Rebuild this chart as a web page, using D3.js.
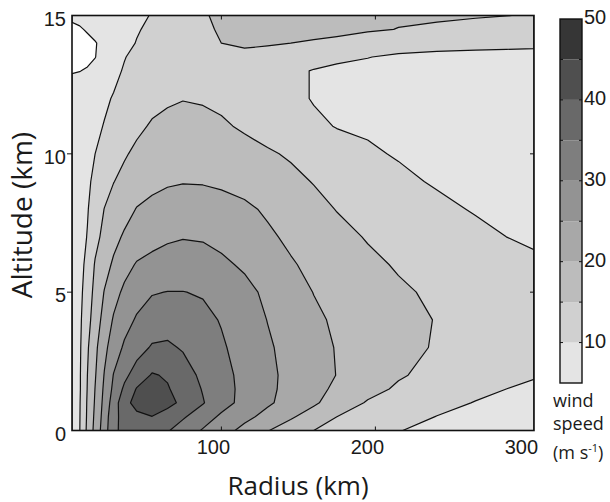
<!DOCTYPE html>
<html>
<head>
<meta charset="utf-8">
<script src="https://cdn.jsdelivr.net/npm/d3@7"></script>
<style>
  html, body { margin: 0; padding: 0; background: #fff; }
  svg { display: block; }
</style>
</head>
<body>
<svg id="chart" width="610" height="502"></svg>
<script>
// Grid coordinates (km)
const radius = [3, 8, 13, 18, 24, 30, 37, 45, 55, 65, 75, 88, 100, 115, 130, 145, 160, 175, 195, 215, 240, 265, 285, 303];
const altitude = [0, 0.5, 1, 1.5, 2, 3, 4, 5, 6, 7, 8, 9, 10, 11, 12, 13, 13.5, 14, 14.5, 15];

// Tangential wind speed (m/s); one row per altitude, one column per radius
const windSpeed = [
  [7.0, 9.9, 16.0, 21.5, 27.7, 34.0, 36.3, 38.2, 38.5, 35.4, 32.8, 29.6, 27.0, 23.6, 20.2, 17.6, 15.0, 13.7, 11.9, 10.1, 9.2, 8.3, 7.6, 7.0],
  [7.0, 9.8, 15.7, 21.0, 27.1, 33.8, 36.4, 38.8, 39.9, 37.8, 35.6, 32.2, 29.2, 26.3, 23.5, 20.6, 17.8, 15.0, 13.4, 11.9, 9.9, 9.0, 8.2, 7.5],
  [7.0, 9.7, 15.5, 20.5, 26.5, 32.5, 38.2, 41.8, 44.0, 41.5, 38.9, 35.3, 31.9, 28.5, 25.7, 23.2, 20.7, 17.8, 14.6, 13.2, 11.5, 9.8, 8.9, 8.0],
  [7.0, 9.5, 15.2, 20.1, 25.9, 31.1, 35.9, 40.3, 43.0, 40.4, 38.0, 34.7, 31.9, 28.7, 26.0, 23.6, 21.3, 19.2, 16.4, 14.4, 12.8, 11.25, 10.0, 9.3],
  [7.0, 9.5, 15.0, 19.6, 25.25, 30.2, 33.8, 37.2, 40.4, 39.5, 37.0, 34.0, 31.5, 28.7, 26.0, 23.8, 21.8, 19.9, 17.7, 15.4, 13.8, 12.4, 11.3, 10.3],
  [7.0, 9.3, 14.4, 18.8, 23.7, 27.5, 30.7, 33.0, 35.5, 35.7, 34.6, 32.5, 30.6, 28.1, 25.6, 23.5, 21.6, 19.75, 18.1, 16.4, 14.6, 13.4, 12.4, 11.5],
  [7.0, 9.1, 13.2, 17.5, 21.7, 25.5, 28.2, 30.5, 32.2, 33.0, 32.6, 31.2, 29.7, 27.3, 24.9, 22.8, 20.8, 19.35, 17.9, 16.5, 14.8, 13.8, 13.0, 12.3],
  [6.8, 8.8, 12.2, 16.5, 20.2, 23.2, 26.0, 28.1, 29.7, 30.1, 30.1, 29.6, 28.4, 26.4, 24.0, 21.9, 19.9, 18.7, 17.1, 15.6, 14.3, 13.4, 12.7, 12.0],
  [6.5, 8.5, 11.25, 15.4, 18.2, 20.7, 23.2, 25.4, 26.3, 26.8, 27.0, 26.7, 25.9, 24.3, 22.4, 20.4, 19.0, 17.7, 15.9, 14.6, 13.5, 12.4, 11.6, 10.8],
  [6.3, 8.2, 10.2, 13.5, 16.4, 18.6, 20.6, 22.0, 23.5, 24.4, 24.8, 24.6, 23.7, 22.2, 20.7, 19.2, 17.8, 16.3, 14.7, 13.6, 12.3, 11.0, 10.0, 9.3],
  [6.2, 7.95, 9.7, 12.2, 15.1, 16.6, 18.3, 20.2, 21.2, 21.9, 22.2, 22.1, 21.6, 20.8, 19.4, 17.8, 16.3, 14.85, 13.6, 12.4, 10.9, 9.7, 9.05, 8.5],
  [6.3, 7.7, 9.3, 10.9, 12.9, 14.9, 16.1, 17.6, 18.8, 19.5, 19.8, 19.7, 19.3, 18.5, 17.4, 16.1, 14.8, 13.7, 12.2, 10.8, 9.6, 9.0, 8.5, 8.0],
  [6.4, 7.5, 8.8, 10.0, 11.5, 12.9, 14.6, 15.8, 16.7, 17.3, 17.5, 17.4, 17.0, 16.3, 15.5, 14.5, 13.3, 12.1, 10.5, 9.7, 9.15, 8.6, 8.2, 7.8],
  [6.2, 7.2, 8.1, 9.1, 10.2, 11.3, 12.7, 14.2, 15.4, 15.8, 16.0, 15.9, 15.5, 14.5, 13.3, 12.1, 10.9, 9.8, 9.5, 9.2, 8.8, 8.4, 8.1, 7.8],
  [5.9, 6.6, 7.4, 8.2, 9.3, 10.3, 11.5, 12.7, 13.9, 14.6, 14.9, 14.7, 14.2, 13.4, 12.4, 11.2, 9.7, 9.1, 8.7, 8.4, 8.2, 8.0, 7.9, 7.8],
  [4.9, 4.95, 5.2, 6.2, 7.6, 8.9, 10.4, 11.4, 12.3, 12.9, 13.3, 13.5, 13.5, 13.0, 12.0, 10.8, 9.8, 9.6, 9.5, 9.4, 9.3, 9.2, 9.1, 9.0],
  [4.3, 4.3, 4.5, 4.9, 6.5, 8.0, 9.8, 11.2, 12.5, 13.4, 13.9, 14.3, 14.5, 14.3, 13.8, 12.8, 11.6, 10.4, 10.05, 9.7, 9.6, 9.5, 9.5, 9.4],
  [4.2, 4.2, 4.5, 4.85, 5.7, 7.0, 8.6, 10.2, 11.8, 13.0, 13.9, 14.5, 15.0, 15.4, 15.3, 15.0, 14.5, 14.0, 12.5, 10.95, 10.6, 10.5, 10.4, 10.4],
  [4.7, 4.8, 5.2, 5.8, 6.6, 7.5, 8.6, 9.6, 11.0, 12.5, 13.6, 14.5, 15.3, 16.0, 16.3, 16.5, 16.5, 16.1, 15.55, 14.9, 13.8, 12.8, 12.0, 11.6],
  [5.3, 5.6, 6.0, 6.8, 7.5, 8.2, 9.0, 9.6, 10.1, 11.5, 12.8, 14.6, 15.8, 16.6, 17.0, 17.0, 17.0, 16.8, 16.5, 15.6, 16.1, 15.55, 15.1, 14.6]
];

// Contour levels (m/s) and the grey used above each level
const levels = [5, 10, 15, 20, 25, 30, 35, 40, 45];
const levelGreys = ["#e4e4e4", "#d0d0d0", "#bcbcbc", "#a8a8a8", "#939393", "#7e7e7e", "#696969", "#4f4f4f", "#363636"];

const radiusTicks = [100, 200, 300];
const altitudeTicks = [0, 5, 10, 15];
const speedTicks = [10, 20, 30, 40, 50];

const svg = d3.select("#chart");
const plot = { left: 72, right: 534, top: 15.5, bottom: 430.5 };

const x = d3.scaleLinear().domain([3, 303]).range([plot.left, plot.right]);
const y = d3.scaleLinear().domain([0, 15]).range([plot.bottom, plot.top]);

// Map contour-grid coordinates (sample i sits at i + 0.5) onto the physical axes
const nx = radius.length, ny = altitude.length;
const colToRadius = d3.scaleLinear().domain(d3.range(nx)).range(radius).clamp(true);
const rowToAltitude = d3.scaleLinear().domain(d3.range(ny)).range(altitude).clamp(true);
const gridPath = d3.geoPath(d3.geoTransform({
  point(gx, gy) {
    this.stream.point(x(colToRadius(gx - 0.5)), y(rowToAltitude(gy - 0.5)));
  }
}));

const contours = d3.contours().size([nx, ny]).thresholds(levels)(windSpeed.flat());

svg.append("clipPath").attr("id", "plot-clip")
  .append("rect")
  .attr("x", plot.left).attr("y", plot.top)
  .attr("width", plot.right - plot.left).attr("height", plot.bottom - plot.top);

const field = svg.append("g").attr("clip-path", "url(#plot-clip)");
field.append("rect")
  .attr("x", plot.left).attr("y", plot.top)
  .attr("width", plot.right - plot.left).attr("height", plot.bottom - plot.top)
  .attr("fill", "#ffffff");

field.selectAll("path.band")
  .data(contours)
  .join("path")
  .attr("class", "band")
  .attr("d", gridPath)
  .attr("fill", d => levelGreys[levels.indexOf(d.value)])
  .attr("stroke", "none");

field.selectAll("path.isoline")
  .data(contours)
  .join("path")
  .attr("class", "isoline")
  .attr("d", gridPath)
  .attr("fill", "none")
  .attr("stroke", "#111")
  .attr("stroke-width", 1.2)
  .attr("stroke-linejoin", "round");

// Frame and ticks
svg.append("rect")
  .attr("x", plot.left).attr("y", plot.top)
  .attr("width", plot.right - plot.left).attr("height", plot.bottom - plot.top)
  .attr("fill", "none").attr("stroke", "#111").attr("stroke-width", 1.6);

const tickFont = "'Liberation Sans', Arial, sans-serif";
const tickColor = "#1a1a1a";

const xt = svg.append("g");
radiusTicks.filter(v => v < 300).forEach(v => {
  xt.append("line").attr("x1", x(v)).attr("x2", x(v)).attr("y1", plot.bottom).attr("y2", plot.bottom - 4)
    .attr("stroke", "#111").attr("stroke-width", 1);
  xt.append("line").attr("x1", x(v)).attr("x2", x(v)).attr("y1", plot.top).attr("y2", plot.top + 4)
    .attr("stroke", "#111").attr("stroke-width", 1);
});
xt.selectAll("text")
  .data(radiusTicks)
  .join("text")
  .attr("x", d => x(d) - 8)
  .attr("y", 454)
  .attr("text-anchor", "middle")
  .attr("font-family", tickFont)
  .attr("font-size", 20)
  .attr("fill", tickColor)
  .text(d => d);

const yt = svg.append("g");
altitudeTicks.forEach(v => {
  if (v > 0 && v < 15) {
    yt.append("line").attr("x1", plot.left).attr("x2", plot.left - 5).attr("y1", y(v)).attr("y2", y(v))
      .attr("stroke", "#111").attr("stroke-width", 1);
    yt.append("line").attr("x1", plot.right).attr("x2", plot.right - 4).attr("y1", y(v)).attr("y2", y(v))
      .attr("stroke", "#111").attr("stroke-width", 1);
  }
});
yt.selectAll("text")
  .data(altitudeTicks)
  .join("text")
  .attr("x", 66)
  .attr("y", d => y(d) + 10)
  .attr("text-anchor", "end")
  .attr("font-family", tickFont)
  .attr("font-size", 20)
  .attr("fill", tickColor)
  .text(d => d);

// Axis titles
const titleFont = "'Open Sans', 'Noto Sans', sans-serif";
svg.append("text")
  .attr("x", 298).attr("y", 495)
  .attr("text-anchor", "middle")
  .attr("font-family", titleFont)
  .attr("font-size", 26)
  .attr("fill", "#1a1a1a")
  .text("Radius (km)");

svg.append("text")
  .attr("transform", "translate(32,215) rotate(-90)")
  .attr("text-anchor", "middle")
  .attr("font-family", titleFont)
  .attr("font-size", 28)
  .attr("fill", "#1a1a1a")
  .text("Altitude (km)");

// Colour bar
const bar = { left: 560, width: 22 };
const cy = d3.scaleLinear().domain([5, 50]).range([383, 19]);
const cbar = svg.append("g");
cbar.selectAll("rect.step")
  .data(levels)
  .join("rect")
  .attr("class", "step")
  .attr("x", bar.left)
  .attr("y", d => cy(d + 5))
  .attr("width", bar.width)
  .attr("height", d => cy(d) - cy(d + 5))
  .attr("fill", (d, i) => levelGreys[i]);
cbar.append("rect")
  .attr("x", bar.left).attr("y", cy(50))
  .attr("width", bar.width).attr("height", cy(5) - cy(50))
  .attr("fill", "none").attr("stroke", "#111").attr("stroke-width", 1.4);
levels.slice(1).forEach(v => {
  cbar.append("line").attr("x1", bar.left).attr("x2", bar.left + 3).attr("y1", cy(v)).attr("y2", cy(v))
    .attr("stroke", "#111").attr("stroke-width", 1);
  cbar.append("line").attr("x1", bar.left + bar.width).attr("x2", bar.left + bar.width - 3).attr("y1", cy(v)).attr("y2", cy(v))
    .attr("stroke", "#111").attr("stroke-width", 1);
});
cbar.selectAll("text")
  .data(speedTicks)
  .join("text")
  .attr("x", 584)
  .attr("y", d => cy(d) + 5)
  .attr("font-family", tickFont)
  .attr("font-size", 20)
  .attr("fill", tickColor)
  .text(d => d);

// Colour bar caption on three lines
const unit = svg.append("g")
  .attr("font-family", titleFont)
  .attr("font-size", 18)
  .attr("fill", "#1a1a1a");
unit.append("text").attr("x", 553).attr("y", 407).text("wind");
unit.append("text").attr("x", 553).attr("y", 430).text("speed");
const u = unit.append("text").attr("x", 553).attr("y", 459);
u.append("tspan").text("(m s");
u.append("tspan").attr("font-size", 11).attr("dy", -7).text("-1");
u.append("tspan").attr("dy", 7).text(")");
</script>
</body>
</html>
